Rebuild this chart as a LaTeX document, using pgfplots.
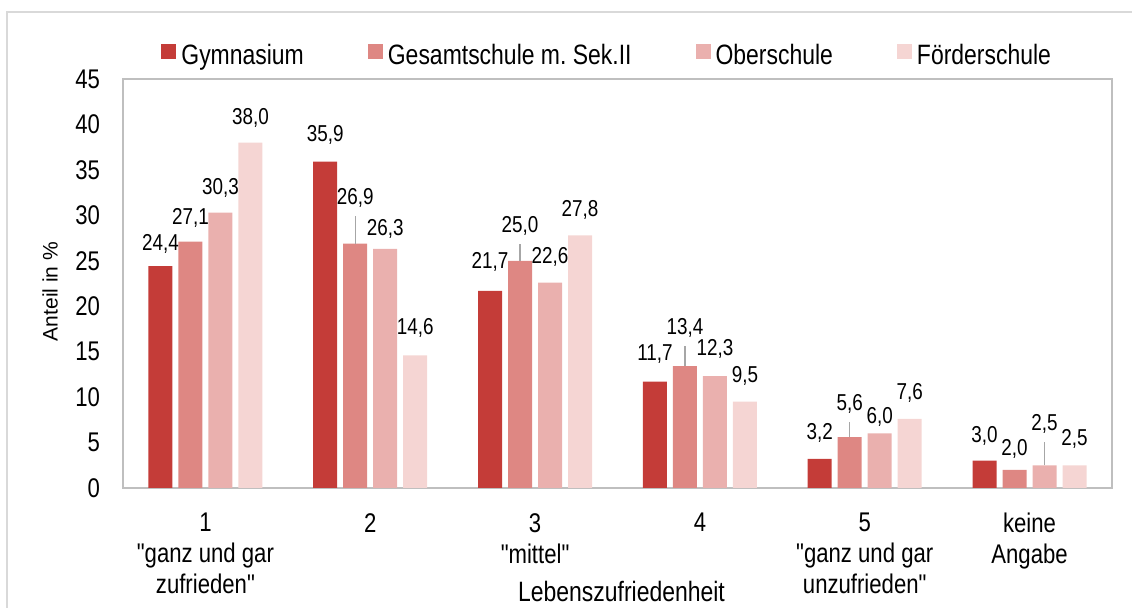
\documentclass[border=0pt]{standalone}
\usepackage{fontspec}
\setmainfont[FakeStretch=0.82, Ligatures=TeXOff]{Liberation Sans}
\newfontfamily\ylabfont{Liberation Sans}
\usepackage{pgfplots}
\usepackage{pgfplotstable}
\pgfplotsset{compat=1.18}
\usetikzlibrary{calc}
\frenchspacing

\definecolor{cgym}{HTML}{C43C38}
\definecolor{cges}{HTML}{DE8783}
\definecolor{cobe}{HTML}{EAB0AE}
\definecolor{cfoe}{HTML}{F5D5D3}
\definecolor{frame}{HTML}{BFBFBF}
\definecolor{border}{HTML}{D9D9D9}
\definecolor{leadgray}{HTML}{A6A6A6}

\pgfplotstableread{
x y gap
0 24.4 6
1 35.9 8.5
2 21.7 9.5
3 11.7 9
4 3.2 8
5 3.0 7.5
}\gym
\pgfplotstableread{
x y gap
0 27.1 7
1 26.9 18
2 25.0 12.5
3 13.4 14
4 5.6 11.5
5 2.0 5.5
}\ges
\pgfplotstableread{
x y gap
0 30.3 7.5
1 26.3 5
2 22.6 8
3 12.3 8.5
4 6.0 3.5
5 2.5 15.5
}\obe
\pgfplotstableread{
x y gap
0 38.0 7.5
1 14.6 8.5
2 27.8 7.5
3 9.5 8
4 7.6 8
5 2.5 8
}\foe

\pgfplotsset{
  barb/.style={ybar, bar width=12pt, draw=none, bar shift=#1,
    visualization depends on={\thisrow{gap} \as \gap},
    nodes near coords={\pgfmathprintnumber[fixed,fixed zerofill,precision=1,use comma,assume math mode=true]{\pgfplotspointmeta}},
    every node near coord/.append style={anchor=south, inner sep=0pt, xshift=#1, yshift=\gap pt,
      font=\fontsize{11.5}{13}\selectfont, text=black},
  },
  leader/.style={sharp plot, no marks, draw=leadgray, line width=0.6pt, forget plot},
}

\begin{document}
\begin{tikzpicture}
\useasboundingbox (-61.5pt,-60pt) rectangle (504.5pt,244pt);
\draw[border, line width=0.75pt] (-58pt,-62pt) -- (-58pt,238pt) -- (506pt,238pt);
\begin{axis}[
  at={(0,0)}, anchor=south west,
  width=494.5pt, height=204.5pt, scale only axis,
  xmin=-0.5, xmax=5.5, ymin=0, ymax=45,
  axis line style={frame, line width=0.8pt},
  major tick length=0pt,
  ytick={0,5,...,45},
  yticklabel style={font=\fontsize{13.5}{16}\selectfont, /pgf/number format/assume math mode=true, xshift=-8pt},
  xtick={0,1,2,3,4,5},
  xticklabels={{1\\"ganz und gar\\zufrieden"},{2},{3\\"mittel"},{4},{5\\"ganz und gar\\unzufrieden"},{keine\\Angabe}},
  xticklabel style={align=center, anchor=north, inner sep=0pt, yshift=-12.5pt, font=\fontsize{13.5}{15.5}\selectfont},
  xlabel={Lebenszufriedenheit},
  xlabel style={at={(axis description cs:0.5,0)}, anchor=base, inner sep=0pt, yshift=-57pt, xshift=2pt, font=\fontsize{14}{16}\selectfont},
  ylabel={Anteil in \%},
  ylabel style={at={($(axis description cs:0,0.5)+(-36.5pt,-4pt)$)}, anchor=center, inner sep=0pt, font=\ylabfont\fontsize{10.5}{12}\selectfont},
  legend columns=4,
  legend style={at={(axis description cs:0,1)}, anchor=south west, xshift=19pt, yshift=5.6pt,
    draw=none, fill=none, inner sep=0pt, font=\fontsize{14}{16}\selectfont,
    nodes={inner sep=0pt},
    /tikz/every odd column/.style={column sep=2.5pt},
    /tikz/every even column/.style={column sep=32pt}},
  legend image code/.code={\fill[#1] (0pt,-1.5pt) rectangle (7.5pt,6pt);},
]
\addplot[barb=-22.5pt, fill=cgym] table[x=x,y=y] {\gym};
\addplot[barb=-7.5pt, fill=cges] table[x=x,y=y] {\ges};
\addplot[barb=7.5pt, fill=cobe] table[x=x,y=y] {\obe};
\addplot[barb=22.5pt, fill=cfoe] table[x=x,y=y] {\foe};
\legend{Gymnasium, Gesamtschule m.\ Sek.II, Oberschule, Förderschule}
% leader lines from shifted labels down to the bar tops
\addplot[leader] coordinates {(0.909,26.9) (0.909,29.98)};
\addplot[leader] coordinates {(1.909,25.0) (1.909,26.87)};
\addplot[leader] coordinates {(2.909,13.4) (2.909,15.6)};
\addplot[leader] coordinates {(3.909,5.6) (3.909,7.25)};
\addplot[leader] coordinates {(5.091,2.5) (5.091,5.03)};
\end{axis}
\end{tikzpicture}
\end{document}
